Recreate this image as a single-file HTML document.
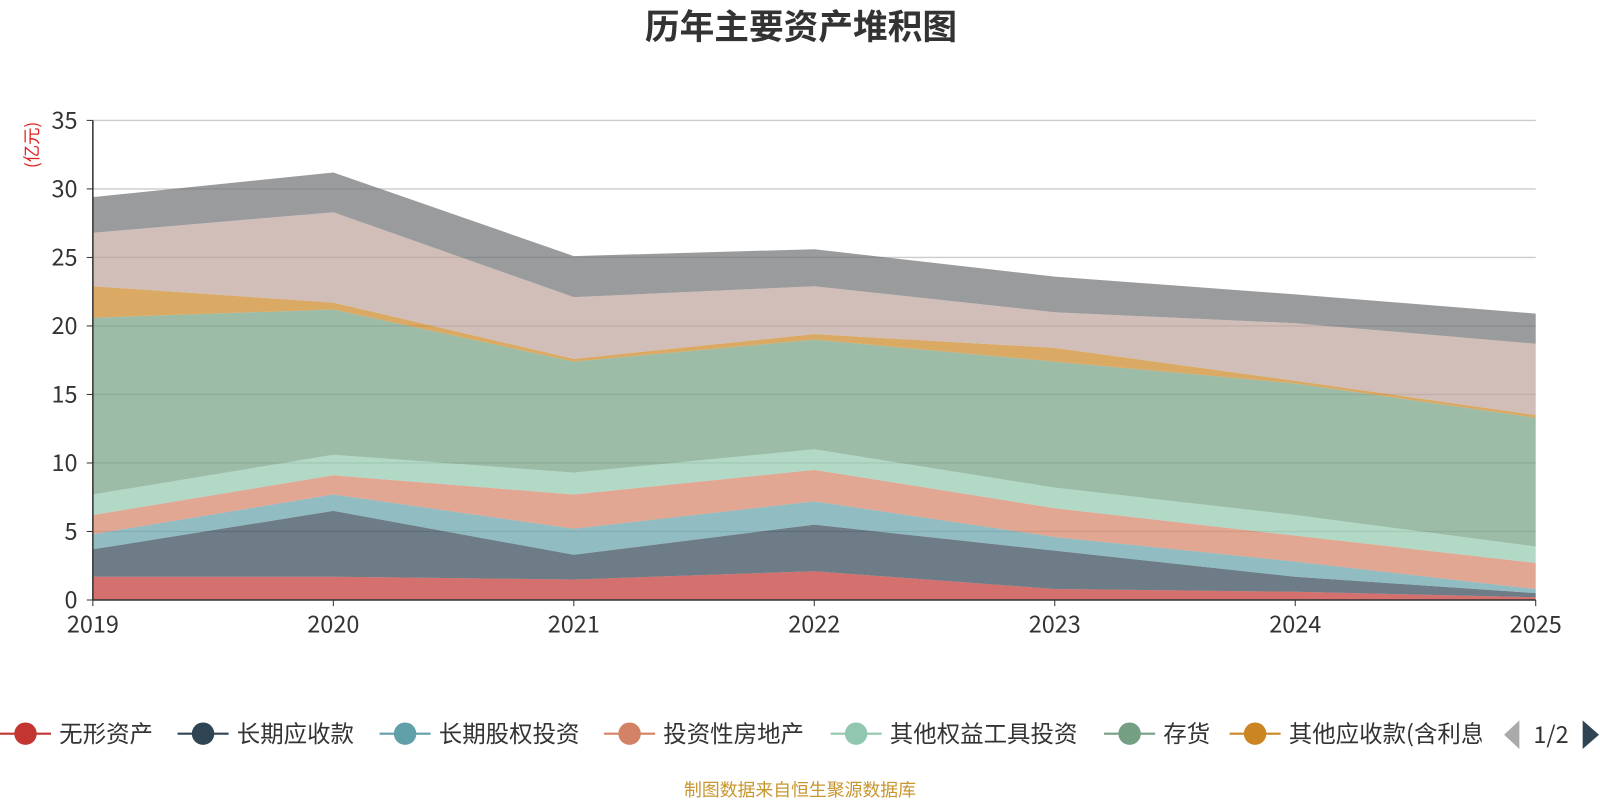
<!DOCTYPE html>
<html><head><meta charset="utf-8">
<style>
body{margin:0;background:#fff;width:1600px;height:800px;overflow:hidden;font-family:"Noto Sans CJK SC","Liberation Sans",sans-serif;}
</style></head>
<body>
<svg id="chart" width="1600" height="800" viewBox="0 0 1568 784" xmlns="http://www.w3.org/2000/svg" font-family="'Noto Sans CJK SC','Liberation Sans',sans-serif">
<text x="785" y="38" text-anchor="middle" font-size="34" font-weight="bold" fill="#333">历年主要资产堆积图</text>
<text transform="translate(37,142) rotate(-90)" text-anchor="middle" font-size="17" fill="#e02020">(亿元)</text>
<g id="grid"></g><g id="areas"></g><g id="axes"></g><g id="legend"></g>
<text x="784" y="780" text-anchor="middle" font-size="17.5" fill="#c8962e">制图数据来自恒生聚源数据库</text>
</svg>
<script>
const years=['2019','2020','2021','2022','2023','2024','2025'];
const yTicks=[0,5,10,15,20,25,30,35];
const seriesNames=['无形资产','长期应收款','长期股权投资','投资性房地产','其他权益工具投资','存货','其他应收款(含利息)','固定资产','其他'];
const s0=[1.7,1.7,1.5,2.1,0.8,0.6,0.2];
const s1=[2.0,4.8,1.8,3.4,2.8,1.1,0.3];
const s2=[1.1,1.2,1.9,1.7,1.0,1.1,0.3];
const s3=[1.4,1.4,2.5,2.3,2.1,1.9,1.9];
const s4=[1.5,1.5,1.6,1.5,1.5,1.5,1.2];
const s5=[12.9,10.6,8.1,8.0,9.2,9.6,9.4];
const s6=[2.3,0.5,0.2,0.4,1.0,0.2,0.2];
const s7=[3.9,6.6,4.5,3.5,2.6,4.2,5.2];
const s8=[2.6,2.9,3.0,2.7,2.6,2.1,2.2];
const series=[s0,s1,s2,s3,s4,s5,s6,s7,s8];
const colors=['#c23531','#2f4554','#61a0a8','#d48265','#91c7ae','#749f83','#ca8622','#bda29a','#6e7074'];
const NS='http://www.w3.org/2000/svg';
const X0=91,X1=1505,Y0=588,Y1=118,YMAX=35;
const xs=i=>X0+i*(X1-X0)/(years.length-1);
const ys=v=>Y0-v*(Y0-Y1)/YMAX;
function mk(tag,attrs,parent){const e=document.createElementNS(NS,tag);for(const k in attrs)e.setAttribute(k,attrs[k]);parent.appendChild(e);return e;}
const grid=document.getElementById('grid'),areas=document.getElementById('areas'),axes=document.getElementById('axes'),legend=document.getElementById('legend');
yTicks.forEach(t=>{
  if(t>0){const l=mk('line',{x1:X0,x2:X1,y1:ys(t),y2:ys(t),stroke:'#ccc','stroke-width':1.3},grid);
  
  }
  const tx=mk('text',{x:76,y:ys(t)+8,'text-anchor':'end','font-size':23,fill:'#333'},axes);tx.textContent=t;
  
  
});
let base=years.map(()=>0);
series.forEach((s,k)=>{
  const top=base.map((b,i)=>b+s[i]);
  let d='M'+years.map((_,i)=>xs(i)+','+ys(top[i])).join('L');
  for(let i=years.length-1;i>=0;i--)d+='L'+xs(i)+','+ys(base[i]);
  d+='Z';
  const p=mk('path',{d:d,fill:colors[k],'fill-opacity':0.7,stroke:'none'},areas);
  
  
  base=top;
});
const ax=mk('line',{x1:X0,x2:X1,y1:Y0,y2:Y0,stroke:'#333','stroke-width':1.5},axes);


const ay=mk('line',{x1:X0,x2:X0,y1:Y0,y2:Y1,stroke:'#333','stroke-width':1.5},axes);


yTicks.forEach(t=>{mk('line',{x1:X0-6,x2:X0,y1:ys(t),y2:ys(t),stroke:'#333'},axes);});
years.forEach((y,i)=>{
  mk('line',{x1:xs(i),x2:xs(i),y1:Y0,y2:Y0+6,stroke:'#333'},axes);
  const t=mk('text',{x:xs(i),y:620,'text-anchor':'middle','font-size':23,fill:'#333'},axes);t.textContent=y;
  
  
});
const lx=[25,199,397,617,839,1107,1230];
for(let k=0;k<7;k++){
  const g=mk('g',{},legend);
  
  
  mk('line',{x1:lx[k]-25,x2:lx[k]+25,y1:719,y2:719,stroke:colors[k],'stroke-width':2},g);
  mk('circle',{cx:lx[k],cy:719,r:11,fill:colors[k]},g);
  const t=mk('text',{x:lx[k]+33,y:727,'font-size':23,fill:'#333'},g);
  t.textContent=seriesNames[k];
}
const cp=mk('clipPath',{id:'lc'},legend);mk('rect',{x:0,y:690,width:1452,height:60},cp);
legend.setAttribute('clip-path','url(#lc)');
const pg=document.getElementById('chart');
const prev=mk('path',{d:'M1489,706L1474,720L1489,734Z',fill:'#aaa'},pg);


const pt=mk('text',{x:1520,y:728,'text-anchor':'middle','font-size':23,fill:'#333'},pg);pt.textContent='1/2';


const next=mk('path',{d:'M1551,706L1567,720L1551,734Z',fill:'#2f4554'},pg);


</script>
</body></html>
